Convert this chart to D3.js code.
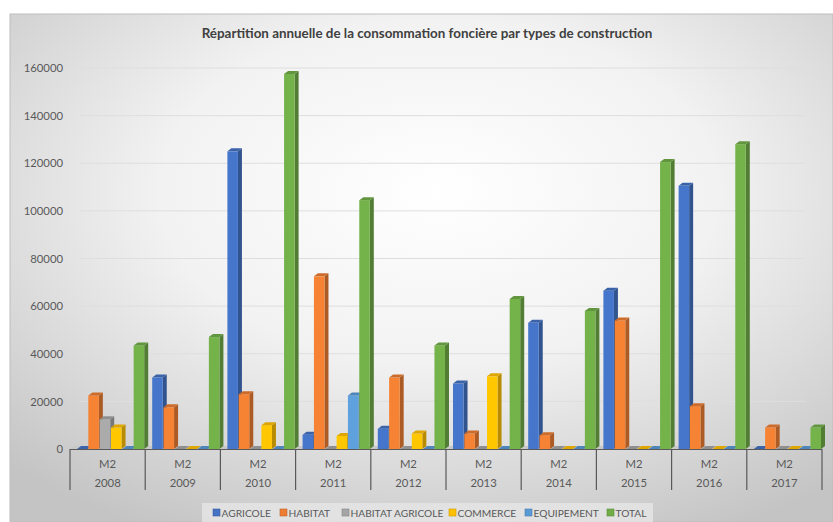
<!DOCTYPE html>
<html><head><meta charset="utf-8">
<script src="https://cdn.jsdelivr.net/npm/d3@7"></script>
<style>html,body{margin:0;padding:0;background:#fff;}svg{display:block;}</style>
</head><body>
<svg id="chart" width="833" height="522"></svg>
<script>
const title = "Répartition annuelle de la consommation foncière par types de construction";
const years = ["2008","2009","2010","2011","2012","2013","2014","2015","2016","2017"];
const unitLabel = "M2";
const series = ["AGRICOLE","HABITAT","HABITAT AGRICOLE","COMMERCE","EQUIPEMENT","TOTAL"];
const colors = ["#4472C4","#ED7D31","#A5A5A5","#FFC000","#5B9BD5","#70AD47"];
const agricole   = [0, 30000, 125000, 6000, 8500, 27500, 53000, 66500, 110500, 0];
const habitat    = [22500, 17500, 23000, 72500, 30000, 6500, 5800, 54000, 18000, 9000];
const habitatAgr = [12500, 0, 0, 0, 0, 0, 0, 0, 0, 0];
const commerce   = [9000, 0, 10000, 5500, 6500, 30500, 0, 0, 0, 0];
const equipement = [0, 0, 0, 22500, 0, 0, 0, 0, 0, 0];
const total      = [43500, 47000, 157500, 104500, 43500, 63000, 58000, 120500, 128000, 9000];
const yTicks = [0,20000,40000,60000,80000,100000,120000,140000,160000];

const values = [agricole, habitat, habitatAgr, commerce, equipement, total];
const FONT = "Lato, 'Liberation Sans', Arial, sans-serif";

const svg = d3.select("#chart");
const defs = svg.append("defs");
const bg = defs.append("radialGradient").attr("id","bg").attr("cx","52%").attr("cy","35%").attr("r","75%");
bg.append("stop").attr("offset","0%").attr("stop-color","#ffffff");
bg.append("stop").attr("offset","45%").attr("stop-color","#f2f2f2");
bg.append("stop").attr("offset","100%").attr("stop-color","#c4c4c4");

svg.append("rect").attr("x",10).attr("y",14).attr("width",823).attr("height",508)
  .attr("fill","url(#bg)").attr("stroke","#bdbdbd").attr("stroke-width",1);

const y = d3.scaleLinear().domain([0,160000]).range([449,68]);
const x0 = d3.scaleBand().domain(years).range([70,822]);
const x1 = d3.scaleBand().domain(series).range([7, 75]);

// gridlines
svg.append("g").selectAll("line").data(yTicks.slice(1)).join("line")
  .attr("x1",80).attr("x2",805).attr("y1",d=>y(d)).attr("y2",d=>y(d))
  .attr("stroke","#dedede").attr("stroke-width",1);

// y axis labels
const yAxis = d3.axisLeft(y).tickValues(yTicks).tickSize(0).tickPadding(0).tickFormat(d3.format("d"));
const ga = svg.append("g").attr("transform","translate(63,0)").call(yAxis);
ga.select(".domain").remove();
ga.selectAll("text").attr("fill","#595959").attr("font-size","11.3px").attr("font-family",FONT);

// floor
const d = 4, dy = 3;
svg.append("path").attr("d",`M70,449 L822,449 L${822+d},${449-dy} L${70+d},${449-dy} Z`).attr("fill","#c8c8c8");

// bars
const bw = x1.bandwidth() - 0.8;
const g = svg.append("g");
years.forEach((yr, i) => {
  series.forEach((s, j) => {
    const v = values[j][i];
    const c = d3.color(colors[j]);
    const x = x0(yr) + x1(s);
    const yt = y(v), yb = y(0);
    g.append("path").attr("d",`M${x+bw},${yt} L${x+bw+d},${yt-dy} L${x+bw+d},${yb-dy} L${x+bw},${yb} Z`)
      .attr("fill", c.darker(0.9));
    g.append("rect").attr("x",x).attr("y",yt).attr("width",bw).attr("height",Math.max(0,yb-yt))
      .attr("fill", c.brighter(0.1));
    g.append("path").attr("d",`M${x},${yt} L${x+d},${yt-dy} L${x+bw+d},${yt-dy} L${x+bw},${yt} Z`)
      .attr("fill", c.darker(0.4));
  });
});

// x axis
const ax = svg.append("g");
ax.append("line").attr("x1",70).attr("x2",822).attr("y1",449.5).attr("y2",449.5).attr("stroke","#595959").attr("stroke-width",1.2);
const bounds = years.map(yr => x0(yr)).concat([x0.range()[1]]);
ax.selectAll("line.sep").data(bounds).join("line").attr("class","sep")
  .attr("x1",d=>d).attr("x2",d=>d).attr("y1",449).attr("y2",490)
  .attr("stroke","#595959").attr("stroke-width",1.2);
ax.selectAll("text.m2").data(years).join("text").attr("class","m2")
  .attr("x",d=>x0(d)+x0.bandwidth()/2).attr("y",468).attr("text-anchor","middle")
  .attr("fill","#595959").attr("font-size","11.3px").attr("font-family",FONT).text(unitLabel);
ax.selectAll("text.yr").data(years).join("text").attr("class","yr")
  .attr("x",d=>x0(d)+x0.bandwidth()/2).attr("y",487).attr("text-anchor","middle")
  .attr("fill","#595959").attr("font-size","11.3px").attr("font-family",FONT).text(d=>d);

// title
svg.append("text").attr("x",427).attr("y",38).attr("text-anchor","middle")
  .attr("font-size","13.4px").attr("font-weight","bold").attr("fill","#404040")
  .attr("font-family",FONT).text(title);

// legend
const lg = svg.append("g");
lg.append("rect").attr("x",202).attr("y",503).attr("width",451).attr("height",19).attr("fill","#e6e6e6").attr("opacity",0.8);
const legX = [213, 280, 342, 449, 525, 607];
series.forEach((s,j) => {
  lg.append("rect").attr("x",legX[j]).attr("y",509).attr("width",7).attr("height",7)
    .attr("fill",colors[j]).attr("stroke",d3.color(colors[j]).darker(0.6)).attr("stroke-width",0.6);
  lg.append("text").attr("x",legX[j]+8.5).attr("y",516.5).attr("fill","#595959").attr("font-size","10.2px")
    .attr("font-family",FONT).text(s);
});
</script>
</body></html>
